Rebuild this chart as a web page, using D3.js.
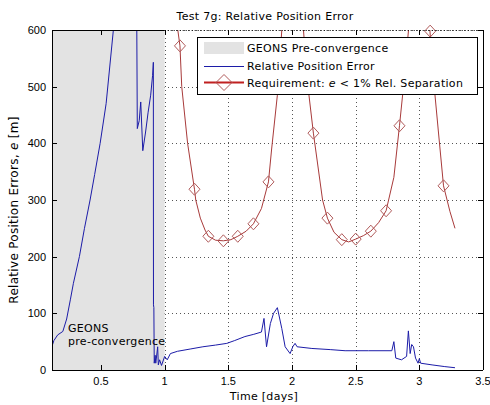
<!DOCTYPE html>
<html><head><meta charset="utf-8">
<script src="https://cdn.jsdelivr.net/npm/d3@7/dist/d3.min.js"></script>
<style>body{margin:0;background:#fff}svg{display:block}text{font-family:"Liberation Sans",Arial,sans-serif}.lab{font-family:"DejaVu Sans",sans-serif;letter-spacing:0.3px}</style>
</head><body>
<svg id="c" width="490" height="405"></svg>
<script>
const xTicks = [0.5, 1, 1.5, 2, 2.5, 3, 3.5];
const yTicks = [0, 100, 200, 300, 400, 500, 600];
const preConvEnd = 1.0;

const errTime = [0.115,0.13,0.16,0.2,0.23,0.26,0.283,0.33,0.37,0.414,0.45,0.493,0.54,0.597,0.69,0.78,0.781,0.785,0.80,0.812,0.828,0.85,0.87,0.89,0.905,0.911,0.912,0.915,0.918,0.925,0.93,0.945,0.95,0.96,0.975,1.0,1.02,1.045,1.1,1.2,1.3,1.4,1.488,1.55,1.63,1.7,1.76,1.78,1.80,1.83,1.855,1.885,1.92,1.946,1.985,2.006,2.024,2.04,2.156,2.3,2.417,2.6,2.784,2.80,2.815,2.86,2.90,2.914,2.928,2.94,2.954,2.97,2.99,3.0,3.01,3.10,3.20,3.28];
const errValue = [42,52,62,68,90,125,153,200,250,300,345,400,470,600,720,620,600,426,440,473,387,420,455,485,520,543,115,110,12,26,12,41,9,18,8,24,18,29,33,37,41,44,47,52,59,63,67,91,41,82,100,110,73,41,29,41,47,41,38,36,34,34,34,50,21,18,24,69,29,45,41,21,12,20,12,9,6,4];

const reqTime = [1.05,1.103,1.12,1.134,1.18,1.234,1.244,1.28,1.317,1.343,1.40,1.461,1.52,1.574,1.64,1.697,1.76,1.815,1.84,1.885,1.92,2.0,2.09,2.12,2.168,2.24,2.278,2.33,2.391,2.445,2.50,2.56,2.619,2.68,2.739,2.80,2.844,2.88,2.915,3.0,3.083,3.10,3.15,3.19,3.24,3.28];
const reqValue = [800,600,572,500,400,319,300,268,247,236,229,228,230,236,245,258,285,332,390,485,600,800,600,510,418,300,268,243,230,226,231,237,245,260,281,340,431,510,600,800,600,540,420,325,280,250];

const markTime = [1.12,1.234,1.343,1.461,1.574,1.697,1.815,2.168,2.278,2.391,2.50,2.619,2.739,2.844,3.085,3.19];
const markValue = [572,319,236,228,236,258,332,418,268,230,231,245,281,431,598,325];

const L = 52, R = 483, T = 30, B = 370;
const x = d3.scaleLinear().domain([0.115, 3.5]).range([L, R]);
const y = d3.scaleLinear().domain([0, 600]).range([B, T]);
const svg = d3.select("#c");

svg.append("defs").append("clipPath").attr("id","clip").append("rect")
  .attr("x", L).attr("y", T).attr("width", R - L).attr("height", B - T);

// grid
const grid = svg.append("g").attr("stroke", "#555").attr("stroke-width", 1).attr("stroke-dasharray", "1,3");
grid.selectAll(".gx").data(xTicks.filter(t => t < 3.5)).join("line")
  .attr("x1", d => Math.round(x(d)) + 0.5).attr("x2", d => Math.round(x(d)) + 0.5)
  .attr("y1", T).attr("y2", B);
grid.selectAll(".gy").data(yTicks.filter(t => t > 0)).join("line")
  .attr("x1", L).attr("x2", R)
  .attr("y1", d => Math.round(y(d)) + 0.5).attr("y2", d => Math.round(y(d)) + 0.5);

// pre-convergence patch
svg.append("rect").attr("x", L).attr("y", T).attr("width", x(preConvEnd) - L).attr("height", B - T)
  .attr("fill", "#e3e3e3");

const plot = svg.append("g").attr("clip-path", "url(#clip)");
const line = d3.line().x(d => x(d[0])).y(d => y(d[1]));

plot.append("path").datum(reqTime.map((t, i) => [t, reqValue[i]]))
  .attr("d", line).attr("fill", "none").attr("stroke", "#a83a3a").attr("stroke-width", 1);

plot.append("path").datum(errTime.map((t, i) => [t, errValue[i]]))
  .attr("d", line).attr("fill", "none").attr("stroke", "#1c1ca8").attr("stroke-width", 1);

const diamond = (cx, cy, w, h) => `M${cx},${cy - h/2}L${cx + w/2},${cy}L${cx},${cy + h/2}L${cx - w/2},${cy}Z`;
svg.append("g").selectAll("path").data(markTime.map((t, i) => [t, markValue[i]])).join("path")
  .attr("d", d => diamond(x(d[0]), y(d[1]), 11, 12))
  .attr("fill", "none").attr("stroke", "#b05a5a").attr("stroke-width", 1);

// axes box
const ax = svg.append("g").attr("stroke", "#000").attr("stroke-width", 1).attr("fill", "none");
ax.append("line").attr("x1", L).attr("x2", R).attr("y1", B + 0.5).attr("y2", B + 0.5);
ax.append("line").attr("x1", L + 0.5).attr("x2", L + 0.5).attr("y1", T).attr("y2", B);
ax.append("line").attr("x1", R + 0.5).attr("x2", R + 0.5).attr("y1", T).attr("y2", B);
ax.append("line").attr("x1", L).attr("x2", x(preConvEnd)).attr("y1", T + 0.5).attr("y2", T + 0.5);
ax.append("line").attr("x1", x(preConvEnd)).attr("x2", R).attr("y1", T + 0.5).attr("y2", T + 0.5)
  .attr("stroke-dasharray", "1,2");

// ticks
const tk = 5;
xTicks.forEach(t => {
  const px = Math.round(x(t)) + 0.5;
  ax.append("line").attr("x1", px).attr("x2", px).attr("y1", B).attr("y2", B - tk);
  ax.append("line").attr("x1", px).attr("x2", px).attr("y1", T).attr("y2", T + tk);
});
yTicks.forEach(t => {
  const py = Math.round(y(t)) + 0.5;
  ax.append("line").attr("x1", L).attr("x2", L + tk).attr("y1", py).attr("y2", py);
  ax.append("line").attr("x1", R).attr("x2", R - tk).attr("y1", py).attr("y2", py);
});

const fs = 11;
svg.append("g").selectAll("text").data(xTicks).join("text")
  .attr("x", d => x(d)).attr("y", 385).attr("text-anchor", "middle").attr("font-size", fs)
  .text(d => d);
svg.append("g").selectAll("text").data(yTicks).join("text")
  .attr("x", 46).attr("y", d => y(d) + 4).attr("text-anchor", "end").attr("font-size", fs)
  .text(d => d);

svg.append("text").attr("class", "lab").attr("x", 265).attr("y", 20).attr("text-anchor", "middle").attr("font-size", fs)
  .text("Test 7g: Relative Position Error");
svg.append("text").attr("class", "lab").attr("x", 264).attr("y", 400).attr("text-anchor", "middle").attr("font-size", fs)
  .text("Time [days]");
const yl = svg.append("text").attr("class", "lab").attr("transform", "translate(18,210) rotate(-90)").attr("text-anchor", "middle").attr("font-size", 12);
yl.append("tspan").text("Relative Position Errors, ");
yl.append("tspan").attr("font-style", "italic").text("e");
yl.append("tspan").text(" [m]");

svg.append("text").attr("class", "lab").attr("x", 68).attr("y", 332).attr("font-size", fs).text("GEONS");
svg.append("text").attr("class", "lab").attr("x", 68).attr("y", 345).attr("font-size", fs).text("pre-convergence");

// legend
const lg = svg.append("g");
lg.append("rect").attr("x", 197.5).attr("y", 37.5).attr("width", 280).attr("height", 57)
  .attr("fill", "#fff").attr("stroke", "#000");
lg.append("rect").attr("x", 204).attr("y", 42).attr("width", 40).attr("height", 12).attr("fill", "#e3e3e3");
lg.append("line").attr("x1", 204).attr("x2", 244).attr("y1", 66.5).attr("y2", 66.5).attr("stroke", "#1c1ca8");
lg.append("line").attr("x1", 204).attr("x2", 244).attr("y1", 82.5).attr("y2", 82.5).attr("stroke", "#c02020").attr("stroke-width", 2);
lg.append("path").attr("d", diamond(224, 82.5, 16, 16)).attr("fill", "none").attr("stroke", "#b05a5a");
lg.append("text").attr("class", "lab").attr("x", 247).attr("y", 52).attr("font-size", fs).text("GEONS Pre-convergence");
lg.append("text").attr("class", "lab").attr("x", 247).attr("y", 70).attr("font-size", fs).text("Relative Position Error");
const lt = lg.append("text").attr("class", "lab").attr("x", 247).attr("y", 87).attr("font-size", fs);
lt.append("tspan").text("Requirement: ");
lt.append("tspan").attr("font-style", "italic").text("e");
lt.append("tspan").text(" < 1% Rel. Separation");
</script>
</body></html>
